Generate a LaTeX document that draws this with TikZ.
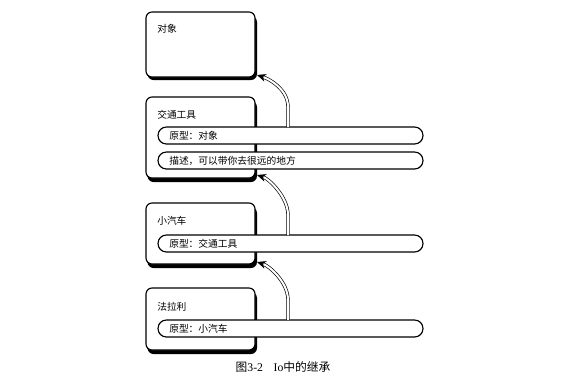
\documentclass[tikz,border=0pt]{standalone}
\usepackage{fontspec}
\setmainfont{Liberation Serif}
\newfontfamily\cjk{Noto Sans CJK SC}
\usetikzlibrary{arrows.meta}
\begin{document}
\begin{tikzpicture}[x=0.75pt,y=-0.75pt,
  objbox/.style={draw=black,line width=0.85pt,fill=white,rounded corners=4.5pt},
  objshadow/.style={fill=black,rounded corners=4.5pt},
  pill/.style={draw=black,line width=0.85pt,fill=white,rounded corners=6.3pt},
  lbl/.style={anchor=west,inner sep=0pt,font=\cjk\fontsize{7.3pt}{8pt}\selectfont},
  dbl/.style={draw=black,line width=0.5pt,double=white,double distance=1.5pt,shorten >=5.2pt},
  tip/.style={draw=black,line width=0.5pt,-{Stealth[length=6.75pt,width=5.8pt]}}]
\path[use as bounding box,fill=white] (0,0) rectangle (565,386);
% shadows
\fill[objshadow] (147.5,16) rectangle (257,80);
\fill[objshadow] (147.5,101) rectangle (257,182);
\fill[objshadow] (147.5,207) rectangle (257,268);
\fill[objshadow] (147.5,292) rectangle (257,354);
% boxes
\draw[objbox] (146,12) rectangle (255,77) coordinate (b1);
\draw[objbox] (146,97) rectangle (255,178) coordinate (b2);
\draw[objbox] (146,203) rectangle (255,264) coordinate (b3);
\draw[objbox] (146,288) rectangle (255,350) coordinate (b4);
\node[lbl] (t1) at (157,29) {对象};
\node[lbl] (t2) at (157,115) {交通工具};
\node[lbl] (t3) at (157,221) {小汽车};
\node[lbl] (t4) at (157,307) {法拉利};
% pills
\draw[pill] (158,127) rectangle (423,144);
\draw[pill] (158,152) rectangle (423,169);
\draw[pill] (158,235) rectangle (423,252);
\draw[pill] (158,320) rectangle (423,337);
\node[lbl] (p1) at (169,135.5) {原型：对象};
\node[lbl] (p2) at (169,160.5) {描述，可以带你去很远的地方};
\node[lbl] (p3) at (169,243.5) {原型：交通工具};
\node[lbl] (p4) at (169,328.5) {原型：小汽车};
% arrow anchors
\coordinate (s1) at (288,127);
\coordinate (e1) at (257,75);
\coordinate (s2) at (288,235);
\coordinate (e2) at (257,175);
\coordinate (s3) at (288,320);
\coordinate (e3) at (257,262);
\foreach \s/\e in {s1/e1,s2/e2,s3/e3}{
  \draw[tip] (\s) -- ++(0,-20) .. controls +(0,-18) and +(12,4) .. (\e);
  \draw[dbl] (\s) -- ++(0,-20) .. controls +(0,-18) and +(12,4) .. (\e);
}
% caption
\node[inner sep=0pt,font=\fontsize{8.8pt}{10pt}\selectfont] (cap) at (283,367) {{\cjk 图}3-2\hspace{0.9em}Io{\cjk 中的继承}};
\end{tikzpicture}
\end{document}
